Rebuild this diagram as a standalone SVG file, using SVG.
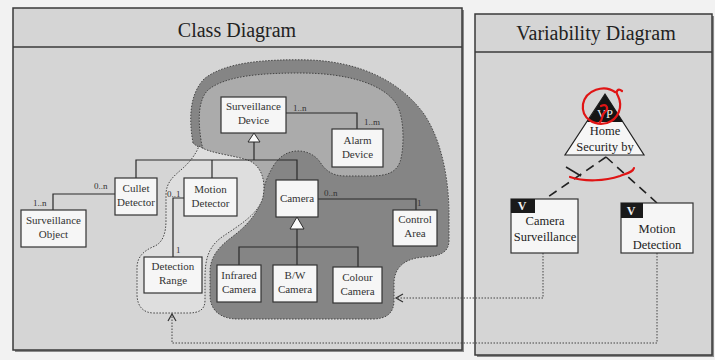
<svg xmlns="http://www.w3.org/2000/svg" width="715" height="360" viewBox="0 0 715 360">
  <style>
    .panel { fill: #d5d5d5; stroke: #3a3a3a; stroke-width: 1.5; }
    .divider { stroke: #3a3a3a; stroke-width: 1.3; }
    .title { font-family: "Liberation Serif", serif; font-size: 20px; fill: #222; text-anchor: middle; }
    .box { fill: #f6f6f6; stroke: #333; stroke-width: 1.2; }
    .lbl { font-family: "Liberation Serif", serif; font-size: 11px; fill: #333; text-anchor: middle; }
    .mult { font-family: "Liberation Serif", serif; font-size: 9px; fill: #333; }
    .vlbl { font-family: "Liberation Serif", serif; font-size: 12.5px; fill: #222; text-anchor: middle; }
    .tab { fill: #1a1a1a; }
    .tabtxt { font-family: "Liberation Serif", serif; font-size: 12px; fill: #f2f2f2; text-anchor: middle; font-weight: bold; }
    .assoc { fill: none; stroke: #2a2a2a; stroke-width: 1.2; }
    .gen { fill: #fafafa; stroke: #2a2a2a; stroke-width: 1; }
    .blob { stroke: #444; stroke-width: 1; stroke-dasharray: 1.5 1.5; }
    .dep { fill: none; stroke: #444; stroke-width: 1; stroke-dasharray: 1.5 1.5; }
    .alt { fill: none; stroke: #222; stroke-width: 1.6; stroke-dasharray: 9 6; }
    .red { fill: none; stroke: #e01515; stroke-width: 2.2; stroke-linecap: round; }
  </style>
  <defs>
    <marker id="open" markerWidth="10" markerHeight="10" refX="8" refY="5" orient="auto" markerUnits="userSpaceOnUse">
      <path d="M1,1 L8,5 L1,9" fill="none" stroke="#333" stroke-width="1.2"/>
    </marker>
  </defs>

  <rect x="0" y="0" width="715" height="360" fill="#f2f2f2"/>

  <!-- Class diagram panel -->
  <g id="class-panel">
    <rect x="15" y="10" width="449" height="342" fill="#8a8a8a"/>
    <rect class="panel" x="13" y="8" width="449" height="342"/>
    <line class="divider" x1="13" y1="47" x2="462" y2="47"/>
    <text class="title" x="237" y="37">Class Diagram</text>
  </g>

  <!-- Variability diagram panel -->
  <g id="variability-panel">
    <rect x="477" y="16" width="237" height="341" fill="#8a8a8a"/>
    <rect class="panel" x="475" y="14" width="237" height="341"/>
    <line class="divider" x1="475" y1="52" x2="712" y2="52"/>
    <text class="title" x="596" y="40">Variability Diagram</text>
  </g>

  <!-- Feature regions -->
  <g id="regions">
    <path id="camera-region" class="blob" fill="#858585" d="M193,143 C189,120 189,95 204,79 C225,62 265,59 310,60 C360,62 400,81 424,114 C442,141 449,180 449,215 L449,240 C449,252 441,256 425,257 C406,258 395,266 394,282 L394,300 C394,313 387,319 372,319 L238,319 C220,319 210,310 210,295 L210,272 C210,256 220,246 232,237 C248,225 259,212 263,195 C266,178 255,165 235,157 C215,152 200,150 193,143 Z"/>
    <path id="common-region" class="blob" fill="#ababab" d="M201,140 C198,120 198,100 208,90 C225,76 260,73 300,73 C350,73 385,85 397,105 C405,120 404,150 400,162 C396,172 388,176 370,176 L345,176 C332,176 325,170 320,162 C315,155 307,151 298,151 C288,151 280,156 274,165 C269,173 266,180 264,188 C255,175 240,168 220,162 C207,157 202,150 201,140 Z"/>
    <path id="motion-region" class="blob" fill="#dedede" d="M199,146 C210,154 235,155 250,161 C262,167 266,182 263,197 C259,214 238,226 222,237 C208,247 205,260 205,278 L205,300 C205,310 199,313 188,313 L154,313 C143,313 137,306 137,294 L137,268 C137,256 145,250 155,246 C163,242 166,233 166,220 L166,195 C166,182 174,176 182,169 C190,162 196,154 199,146 Z"/>
  </g>

  <!-- Connectors -->
  <g id="connectors">
    <!-- associations -->
    <polyline class="assoc" points="286,113 357,113 357,129"/>
    <polyline class="assoc" points="318,199 416,199 416,210"/>
    <polyline class="assoc" points="115,194 53,194 53,210"/>
    <polyline class="assoc" points="184,198 173,198 173,257"/>
    <!-- generalization: Surveillance Device -->
    <polyline class="assoc" points="136,178 136,160 297,160 297,180"/>
    <line class="assoc" x1="212" y1="160" x2="212" y2="178"/>
    <line class="assoc" x1="254" y1="142" x2="254" y2="160"/>
    <polygon class="gen" points="254,133 248,142 260,142"/>
    <!-- generalization: Camera -->
    <polyline class="assoc" points="239,265 239,247 358,247 358,267"/>
    <line class="assoc" x1="297" y1="229" x2="297" y2="265"/>
    <polygon class="gen" points="297,217 290,229 304,229"/>
    <!-- multiplicities -->
    <text class="mult" x="293" y="111">1..n</text>
    <text class="mult" x="364" y="125">1..m</text>
    <text class="mult" x="324" y="196">0..n</text>
    <text class="mult" x="417" y="206">1</text>
    <text class="mult" x="94" y="189">0..n</text>
    <text class="mult" x="33" y="206">1..n</text>
    <text class="mult" x="167" y="197">0..1</text>
    <text class="mult" x="176" y="253">1</text>
    <!-- variation point to variants -->
    <path class="alt" d="M606,157 L545,199"/>
    <path class="alt" d="M606,157 L657,203"/>
    <line x1="566" y1="167" x2="581" y2="176" stroke="#222" stroke-width="1.5"/>
    <!-- variant realisations -->
    <polyline class="dep" points="543,253 543,298 396,298" marker-end="url(#open)"/>
    <polyline class="dep" points="657,253 657,343 172,343 172,314" marker-end="url(#open)"/>
  </g>

  <!-- Class nodes -->
  <g id="surveillance-device"><rect class="box" x="221" y="97" width="65" height="36"/><text class="lbl" x="253.5" y="110">Surveillance</text><text class="lbl" x="253.5" y="124">Device</text></g>
  <g id="alarm-device"><rect class="box" x="332" y="129" width="51" height="38"/><text class="lbl" x="357.5" y="144">Alarm</text><text class="lbl" x="357.5" y="158">Device</text></g>
  <g id="cullet-detector"><rect class="box" x="115" y="178" width="42" height="37"/><text class="lbl" x="136" y="192">Cullet</text><text class="lbl" x="136" y="206">Detector</text></g>
  <g id="motion-detector"><rect class="box" x="184" y="178" width="53" height="38"/><text class="lbl" x="210.5" y="193">Motion</text><text class="lbl" x="210.5" y="207">Detector</text></g>
  <g id="surveillance-object"><rect class="box" x="21" y="210" width="65" height="37"/><text class="lbl" x="53.5" y="224">Surveillance</text><text class="lbl" x="53.5" y="238">Object</text></g>
  <g id="detection-range"><rect class="box" x="144" y="257" width="58" height="36"/><text class="lbl" x="173" y="270">Detection</text><text class="lbl" x="173" y="284">Range</text></g>
  <g id="camera"><rect class="box" x="276" y="180" width="42" height="37"/><text class="lbl" x="297" y="202">Camera</text></g>
  <g id="control-area"><rect class="box" x="393" y="210" width="44" height="36"/><text class="lbl" x="415" y="223">Control</text><text class="lbl" x="415" y="237">Area</text></g>
  <g id="infrared-camera"><rect class="box" x="217" y="265" width="44" height="37"/><text class="lbl" x="239" y="279">Infrared</text><text class="lbl" x="239" y="293">Camera</text></g>
  <g id="bw-camera"><rect class="box" x="273" y="265" width="44" height="37"/><text class="lbl" x="295" y="279">B/W</text><text class="lbl" x="295" y="293">Camera</text></g>
  <g id="colour-camera"><rect class="box" x="333" y="267" width="49" height="36"/><text class="lbl" x="357.5" y="281">Colour</text><text class="lbl" x="357.5" y="295">Camera</text></g>

  <!-- Variability nodes -->
  <g id="vp-home-security">
    <polygon points="605,94 565,155 644,155" fill="#f6f6f6" stroke="#222" stroke-width="1.2"/>
    <polygon points="605,94 587,122 623,122" fill="#151515"/>
    <text x="605" y="118" font-family="Liberation Serif, serif" font-size="12.5" fill="#eee" text-anchor="middle">VP</text>
    <text class="vlbl" x="605" y="135">Home</text>
    <text class="vlbl" x="605" y="151">Security by</text>
  </g>
  <g id="camera-surveillance">
    <rect class="box" x="511" y="199" width="67" height="54"/>
    <rect class="tab" x="511" y="199" width="24" height="14"/>
    <text class="tabtxt" x="522" y="210">V</text>
    <text class="vlbl" x="545" y="225">Camera</text>
    <text class="vlbl" x="545" y="241">Surveillance</text>
  </g>
  <g id="motion-detection">
    <rect class="box" x="621" y="203" width="72" height="50"/>
    <rect class="tab" x="621" y="203" width="22" height="15"/>
    <text class="tabtxt" x="631" y="215">V</text>
    <text class="vlbl" x="657" y="233">Motion</text>
    <text class="vlbl" x="657" y="249">Detection</text>
  </g>

  <!-- Red pen marks -->
  <g id="pen-marks">
    <path class="red" d="M615,92 C604,84 586,90 583,104 C581,119 595,126 607,123 C619,119 623,106 618,96 C615,91 618,88 622,91"/>
    <path class="red" d="M601,106 C607,103 609,109 605,112 C601,115 603,120 600,122"/>
    <path class="red" d="M570,177 C585,182 605,181 620,176 C628,173 633,172 634,168"/>
  </g>
</svg>
